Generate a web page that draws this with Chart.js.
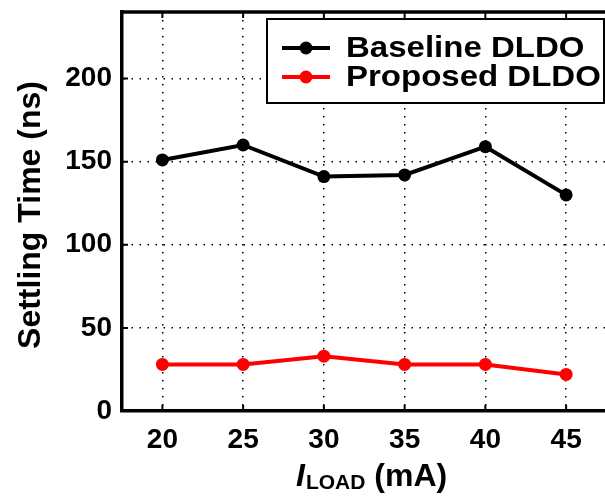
<!DOCTYPE html>
<html>
<head>
<meta charset="utf-8">
<script src="https://cdn.jsdelivr.net/npm/chart.js@4"></script>
<style>
  html, body { margin: 0; padding: 0; background: #fff; overflow: hidden; }
  #wrap { width: 605px; height: 498px; overflow: hidden; }
</style>
</head>
<body>
<div id="wrap"><canvas id="chart" width="613" height="498"></canvas></div>
<script>
// --- data ---
const loadCurrents = [20, 25, 30, 35, 40, 45];          // mA
const baselineSettling = [151, 160, 141, 142, 159, 130]; // ns
const proposedSettling = [28, 28, 33, 28, 28, 22];       // ns
const xTickValues = [20, 25, 30, 35, 40, 45];
const yTickValues = [0, 50, 100, 150, 200];

const FONT = '"Liberation Sans", Arial, Helvetica, sans-serif';

function toPoints(ys) {
    return loadCurrents.map((x, i) => ({ x: x, y: ys[i] }));
}

// draws the top frame line, inward tick marks, boxed legend and axis titles
const decorPlugin = {
    id: 'decor',
    afterDatasetsDraw(chart) {
        const ctx = chart.ctx;
        const area = chart.chartArea;
        const xs = chart.scales.x;
        const ys = chart.scales.y;

        ctx.save();
        ctx.strokeStyle = '#000';

        // top frame
        ctx.lineWidth = 3.5;
        ctx.beginPath();
        ctx.moveTo(area.left - 1.5, area.top);
        ctx.lineTo(area.right, area.top);
        ctx.stroke();

        // inward tick marks
        ctx.lineWidth = 2;
        ctx.beginPath();
        xTickValues.forEach(v => {
            const px = xs.getPixelForValue(v);
            ctx.moveTo(px, area.bottom);
            ctx.lineTo(px, area.bottom - 6);
            ctx.moveTo(px, area.top);
            ctx.lineTo(px, area.top + 6);
        });
        yTickValues.forEach(v => {
            const py = ys.getPixelForValue(v);
            ctx.moveTo(area.left, py);
            ctx.lineTo(area.left + 6, py);
        });
        ctx.stroke();

        // legend box
        const bx = 267, by = 19, bw = 337, bh = 84;
        ctx.fillStyle = '#fff';
        ctx.fillRect(bx, by, bw, bh);
        ctx.lineWidth = 2;
        ctx.strokeRect(bx, by, bw, bh);

        const rows = [48, 77];
        chart.data.datasets.forEach((ds, i) => {
            const y = rows[i];
            ctx.strokeStyle = ds.borderColor;
            ctx.lineWidth = 4;
            ctx.beginPath();
            ctx.moveTo(282, y);
            ctx.lineTo(330, y);
            ctx.stroke();
            ctx.fillStyle = ds.borderColor;
            ctx.beginPath();
            ctx.arc(306, y, 6.5, 0, Math.PI * 2);
            ctx.fill();
            ctx.fillStyle = '#000';
            ctx.font = 'bold 30px ' + FONT;
            ctx.textAlign = 'left';
            ctx.textBaseline = 'middle';
            // reference lettering is a bit wider than the font's natural width
            ctx.save();
            ctx.translate(346, y + 1);
            ctx.scale(1.1, 1);
            ctx.fillText(ds.label, 0, 0);
            ctx.restore();
        });

        // y axis title
        ctx.fillStyle = '#000';
        ctx.save();
        ctx.translate(31, 215);
        ctx.rotate(-Math.PI / 2);
        ctx.font = 'bold 32px ' + FONT;
        ctx.textAlign = 'center';
        ctx.textBaseline = 'middle';
        ctx.fillText('Settling Time (ns)', 0, 0);
        ctx.restore();

        // x axis title: I_LOAD (mA)
        ctx.textBaseline = 'alphabetic';
        ctx.textAlign = 'left';
        let tx = 296;
        const base = 486;
        ctx.font = 'italic bold 32px ' + FONT;
        ctx.fillText('I', tx, base);
        tx += ctx.measureText('I').width + 1;
        ctx.font = 'bold 21px ' + FONT;
        ctx.fillText('LOAD', tx, base + 3);
        tx += ctx.measureText('LOAD').width;
        ctx.font = 'bold 32px ' + FONT;
        ctx.fillText(' (mA)', tx, base);

        ctx.restore();
    }
};

const dotted = {
    display: true,
    color: '#000',
    lineWidth: 1.5,
    drawTicks: false
};

new Chart(document.getElementById('chart'), {
    type: 'line',
    data: {
        datasets: [
            {
                label: 'Baseline DLDO',
                data: toPoints(baselineSettling),
                borderColor: '#000000',
                backgroundColor: '#000000',
                borderWidth: 4,
                pointRadius: 6.5,
                pointBorderWidth: 0,
                tension: 0
            },
            {
                label: 'Proposed DLDO',
                data: toPoints(proposedSettling),
                borderColor: '#ff0000',
                backgroundColor: '#ff0000',
                borderWidth: 4,
                pointRadius: 6.5,
                pointBorderWidth: 0,
                tension: 0
            }
        ]
    },
    options: {
        responsive: false,
        animation: false,
        devicePixelRatio: 1,
        layout: { padding: { top: 12, right: 0, left: 0, bottom: 0 } },
        plugins: {
            legend: { display: false },
            tooltip: { enabled: false }
        },
        scales: {
            x: {
                type: 'linear',
                min: 17.5,
                max: 47.5,
                afterBuildTicks(scale) {
                    scale.ticks = xTickValues.map(v => ({ value: v }));
                },
                afterFit(scale) { scale.height = 87; },
                grid: dotted,
                border: { display: true, color: '#000', width: 3.5, dash: [1.5, 6.5] },
                ticks: {
                    color: '#000',
                    padding: 12,
                    maxRotation: 0,
                    font: { family: FONT, size: 28, weight: 'bold' }
                }
            },
            y: {
                type: 'linear',
                min: 0,
                max: 240,
                afterBuildTicks(scale) {
                    scale.ticks = yTickValues.map(v => ({ value: v }));
                },
                afterFit(scale) {
                    scale.width = 122;
                    scale.paddingTop = 0;
                    scale.paddingBottom = 0;
                },
                grid: dotted,
                border: { display: true, color: '#000', width: 3.5, dash: [1.5, 6.5] },
                ticks: {
                    color: '#000',
                    padding: 10,
                    font: { family: FONT, size: 28, weight: 'bold', lineHeight: 0.8 }
                }
            }
        }
    },
    plugins: [decorPlugin]
});
</script>
</body>
</html>
